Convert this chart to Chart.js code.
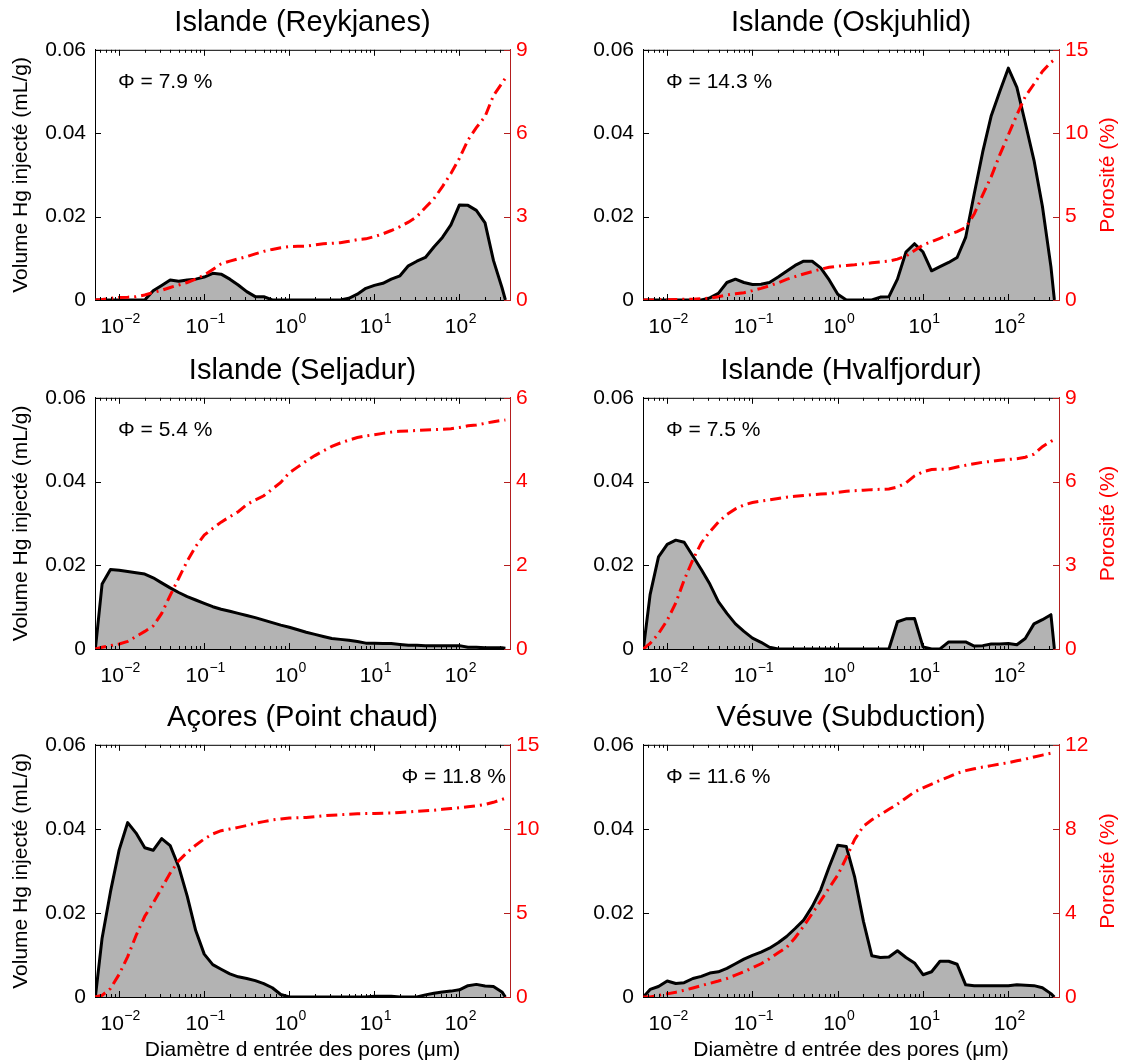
<!DOCTYPE html>
<html>
<head>
<meta charset="utf-8">
<script src="https://cdn.jsdelivr.net/npm/chart.js@4.4.1/dist/chart.umd.min.js"></script>
<style>
  html, body { margin: 0; padding: 0; background: #fff; }
  #page { position: relative; width: 1123px; height: 1063px; overflow: hidden; }
  #page canvas { position: absolute; }
</style>
</head>
<body>
<div id="page">
  <canvas id="c0" width="560" height="348" style="left:0;top:0"></canvas>
  <canvas id="c1" width="563" height="348" style="left:560px;top:0"></canvas>
  <canvas id="c2" width="560" height="347" style="left:0;top:348px"></canvas>
  <canvas id="c3" width="563" height="347" style="left:560px;top:348px"></canvas>
  <canvas id="c4" width="560" height="368" style="left:0;top:695px"></canvas>
  <canvas id="c5" width="563" height="368" style="left:560px;top:695px"></canvas>
</div>
<script>
// pore entry diameters (µm), shared by all samples
const diameters = [
  0.00525, 0.0063, 0.0079, 0.01, 0.0126, 0.0158, 0.02, 0.0251, 0.0316, 0.0398,
  0.0501, 0.0631, 0.0794, 0.1, 0.126, 0.158, 0.2, 0.251, 0.316, 0.398,
  0.501, 0.631, 0.794, 1, 1.26, 1.58, 2, 2.51, 3.16, 3.98,
  5.01, 6.31, 7.94, 10, 12.6, 15.8, 20, 25.1, 31.6, 39.8,
  50.1, 63.1, 79.4, 100, 126, 158, 200, 251, 316, 347
];

const panelTitles = [
  'Islande (Reykjanes)', 'Islande (Oskjuhlid)',
  'Islande (Seljadur)', 'Islande (Hvalfjordur)',
  'Açores (Point chaud)', 'Vésuve (Subduction)'
];
const phiLabels = ['Φ = 7.9 %', 'Φ = 14.3 %', 'Φ = 5.4 %', 'Φ = 7.5 %', 'Φ = 11.8 %', 'Φ = 11.6 %'];

// Hg volume injected (mL/g)
const reykjanesVolume = [
  0, 0, 0, 0, 0, 0, 0, 0.0022, 0.0035, 0.0048,
  0.0045, 0.0048, 0.005, 0.0055, 0.0064, 0.0062, 0.005, 0.0036, 0.002, 0.0008,
  0.0008, 0, 0, 0, 0, 0, 0, 0, 0, 0,
  0.0004, 0.0014, 0.0028, 0.0035, 0.004, 0.005, 0.0058, 0.0082, 0.0093, 0.0102,
  0.0127, 0.015, 0.018, 0.0228, 0.0227, 0.0215, 0.0185, 0.0095, 0.003, 0
];
const oskjuhlidVolume = [
  0, 0, 0, 0, 0, 0, 0, 0, 0.0005, 0.0016,
  0.0042, 0.005, 0.0042, 0.0037, 0.0038, 0.0042, 0.0055, 0.0069, 0.0083, 0.0093,
  0.0093, 0.0077, 0.0048, 0.0014, 0, 0, 0, 0, 0.0007, 0.0008,
  0.005, 0.0115, 0.0135, 0.0115, 0.007, 0.008, 0.009, 0.0102, 0.015, 0.0254,
  0.0355, 0.0442, 0.05, 0.0556, 0.051, 0.0425, 0.0335, 0.0225, 0.008, 0
];
const seljadurVolume = [
  0, 0.0155, 0.019, 0.0188, 0.0185, 0.0182, 0.0179, 0.017, 0.0158, 0.0146,
  0.0135, 0.0125, 0.0117, 0.0109, 0.0101, 0.0095, 0.009, 0.0085, 0.008, 0.0075,
  0.0069, 0.0063, 0.0057, 0.0052, 0.0046, 0.004, 0.0035, 0.003, 0.0025, 0.0023,
  0.0021, 0.0018, 0.0014, 0.0014, 0.0013, 0.0013, 0.0011, 0.0009, 0.0009, 0.0008,
  0.0008, 0.0008, 0.0008, 0.0008, 0.0004, 0.0004, 0.0003, 0.0003, 0.0003, 0.0002
];
const hvalfjordurVolume = [
  0, 0.013, 0.022, 0.025, 0.026, 0.0255, 0.0222, 0.019, 0.0155, 0.0113,
  0.0085, 0.006, 0.0042, 0.0026, 0.0016, 0.0004, 0, 0, 0, 0,
  0, 0, 0, 0, 0, 0, 0, 0, 0, 0,
  0.0065, 0.0072, 0.0073, 0.0005, 0, 0, 0.0017, 0.0017, 0.0017, 0.0007,
  0.0008, 0.0012, 0.0012, 0.0013, 0.001, 0.0025, 0.006, 0.007, 0.0082, 0
];
const acoresVolume = [
  0, 0.014, 0.025, 0.035, 0.0415, 0.039, 0.0355, 0.0349, 0.0377, 0.036,
  0.031, 0.024, 0.0158, 0.0102, 0.0077, 0.0066, 0.0055, 0.0048, 0.0044, 0.0039,
  0.0032, 0.0022, 0.0006, 0, 0, 0, 0, 0, 0, 0,
  0, 0, 0, 0.0002, 0.0002, 0.0002, 0, 0, 0, 0.0005,
  0.0009, 0.0012, 0.0014, 0.0017, 0.0027, 0.003, 0.0026, 0.0025, 0.0012, 0
];
const vesuveVolume = [
  0, 0.0018, 0.0025, 0.0038, 0.0032, 0.0034, 0.0044, 0.0049, 0.0057, 0.006,
  0.0068, 0.0079, 0.009, 0.0099, 0.0107, 0.0116, 0.0129, 0.0144, 0.0163, 0.0183,
  0.0215, 0.0255, 0.031, 0.0361, 0.0358, 0.0285, 0.018, 0.0098, 0.0094, 0.0095,
  0.011, 0.0094, 0.0081, 0.0053, 0.006, 0.0085, 0.0085, 0.0078, 0.0029, 0.0027,
  0.0027, 0.0027, 0.0027, 0.0027, 0.0029, 0.0028, 0.0027, 0.0022, 0.0008, 0
];

// cumulative porosity (%)
const reykjanesPorosity = [
  0, 0.02, 0.06, 0.09, 0.1, 0.12, 0.18, 0.27, 0.35, 0.45,
  0.54, 0.63, 0.75, 0.9, 1.1, 1.3, 1.4, 1.48, 1.56, 1.66,
  1.75, 1.82, 1.88, 1.92, 1.93, 1.94, 1.98, 2.02, 2.04, 2.06,
  2.11, 2.17, 2.2, 2.28, 2.38, 2.5, 2.64, 2.8, 3.0, 3.33,
  3.64, 4.08, 4.55, 5.1, 5.75, 6.2, 6.6, 7.35, 7.8, 7.98
];
const oskjuhlidPorosity = [
  0, 0, 0.01, 0.02, 0.03, 0.04, 0.05, 0.08, 0.11, 0.2,
  0.3, 0.37, 0.44, 0.56, 0.7, 0.85, 1.03, 1.24, 1.4, 1.56,
  1.7, 1.85, 1.96, 2.03, 2.07, 2.11, 2.17, 2.23, 2.28, 2.33,
  2.45, 2.63, 2.97, 3.3, 3.5, 3.7, 3.92, 4.1, 4.35, 5.15,
  6.3, 7.4, 8.7, 9.9, 11.1, 12.2, 12.95, 13.7, 14.25, 14.4
];
const seljadurPorosity = [
  0, 0.04, 0.08, 0.12, 0.18, 0.3, 0.42, 0.55, 0.85, 1.28,
  1.69, 2.1, 2.45, 2.72, 2.88, 3.03, 3.16, 3.28, 3.45, 3.56,
  3.66, 3.82, 3.98, 4.21, 4.35, 4.49, 4.62, 4.73, 4.84, 4.92,
  4.99, 5.05, 5.09, 5.12, 5.15, 5.18, 5.2, 5.21, 5.22, 5.23,
  5.24, 5.25, 5.26, 5.29, 5.33, 5.35, 5.39, 5.43, 5.46, 5.47
];
const hvalfjordurPorosity = [
  0, 0.2, 0.55, 1.03, 1.65, 2.47, 3.2, 3.8, 4.2, 4.55,
  4.82, 5.02, 5.16, 5.25, 5.3, 5.34, 5.39, 5.44, 5.47, 5.5,
  5.53, 5.55, 5.57, 5.61, 5.65, 5.67, 5.69, 5.71, 5.72, 5.73,
  5.8, 5.95, 6.2, 6.35, 6.43, 6.44, 6.45, 6.52, 6.58, 6.64,
  6.69, 6.72, 6.76, 6.79, 6.82, 6.87, 6.98, 7.25, 7.44, 7.5
];
const acoresPorosity = [
  0, 0.1, 0.5, 1.35, 2.4, 3.66, 4.8, 5.59, 6.48, 7.37,
  8.1, 8.6, 9.03, 9.4, 9.7, 9.89, 9.99, 10.09, 10.2, 10.34,
  10.43, 10.53, 10.59, 10.64, 10.66, 10.68, 10.73, 10.78, 10.81, 10.84,
  10.87, 10.9, 10.91, 10.92, 10.93, 10.94, 10.98, 11.01, 11.04, 11.08,
  11.11, 11.16, 11.21, 11.26, 11.31, 11.37, 11.45, 11.58, 11.75, 11.82
];
const vesuvePorosity = [
  0, 0, 0.08, 0.15, 0.23, 0.32, 0.43, 0.54, 0.65, 0.76,
  0.88, 1.04, 1.2, 1.39, 1.58, 1.82, 2.1, 2.36, 2.82, 3.37,
  3.97, 4.58, 5.2, 5.8, 6.63, 7.5, 8.13, 8.43, 8.68, 8.93,
  9.18, 9.47, 9.76, 9.95, 10.13, 10.31, 10.47, 10.65, 10.77, 10.86,
  10.94, 11.01, 11.08, 11.15, 11.24, 11.32, 11.42, 11.51, 11.6, 11.65
];

const porosityMax = [9, 15, 6, 9, 15, 12];
const porosityStep = [3, 5, 2, 3, 5, 4];
const volumeTicks = [0, 0.02, 0.04, 0.06];
const xTickValues = [0.01, 0.1, 1, 10, 100];
const xTickBase = '10';
const xTickExponents = ['−2', '−1', '0', '1', '2'];

const panels = [
  [reykjanesVolume, reykjanesPorosity],
  [oskjuhlidVolume, oskjuhlidPorosity],
  [seljadurVolume, seljadurPorosity],
  [hvalfjordurVolume, hvalfjordurPorosity],
  [acoresVolume, acoresPorosity],
  [vesuveVolume, vesuvePorosity]
];

const FONT = '"Liberation Sans", Arial, Helvetica, sans-serif';
const RED = '#ff0000';
const AXIS_RED = '#b41e1e';
Chart.defaults.font.family = FONT;
Chart.defaults.color = '#000';

// box top line, inward tick marks, 10^n labels, Φ label and right-side title
const frameTicks = {
  id: 'frameTicks',
  afterDatasetsDraw(chart, args, opts) {
    const {ctx, chartArea: a, scales} = chart;
    const x = scales.x, y = scales.y, y1 = scales.y1;
    ctx.save();
    ctx.lineWidth = 1;
    ctx.strokeStyle = '#000';
    ctx.beginPath();
    ctx.moveTo(a.left, a.top + 0.5);
    ctx.lineTo(a.right, a.top + 0.5);
    for (let e = -3; e <= 2; e++) {
      for (let m = 1; m <= 9; m++) {
        const v = m * Math.pow(10, e);
        if (v < x.min || v > x.max) continue;
        const px = Math.round(x.getPixelForValue(v)) + 0.5;
        const len = m === 1 ? 6 : 3;
        ctx.moveTo(px, a.bottom);
        ctx.lineTo(px, a.bottom - len);
        ctx.moveTo(px, a.top);
        ctx.lineTo(px, a.top + len);
      }
    }
    volumeTicks.forEach(v => {
      const py = Math.round(y.getPixelForValue(v)) + 0.5;
      ctx.moveTo(a.left, py);
      ctx.lineTo(a.left + 6, py);
    });
    ctx.stroke();

    ctx.strokeStyle = AXIS_RED;
    ctx.beginPath();
    y1.ticks.forEach(t => {
      const py = Math.round(y1.getPixelForValue(t.value)) + 0.5;
      ctx.moveTo(a.right, py);
      ctx.lineTo(a.right - 6, py);
    });
    ctx.stroke();

    // decade labels with raised exponent
    ctx.fillStyle = '#000';
    ctx.textBaseline = 'alphabetic';
    ctx.textAlign = 'left';
    xTickValues.forEach((v, k) => {
      const px = x.getPixelForValue(v);
      ctx.font = '21px ' + FONT;
      const wb = ctx.measureText(xTickBase).width;
      ctx.font = '14px ' + FONT;
      const we = ctx.measureText(xTickExponents[k]).width;
      const left = px - (wb + we) / 2 + 1;
      ctx.font = '21px ' + FONT;
      ctx.fillText(xTickBase, left, a.bottom + 33);
      ctx.font = '14px ' + FONT;
      ctx.fillText(xTickExponents[k], left + wb + 0.5, a.bottom + 23);
    });

    ctx.font = '21px ' + FONT;
    if (opts.phiRight) {
      ctx.textAlign = 'right';
      ctx.fillText(opts.phi, a.right - 4, a.top + 38);
    } else {
      ctx.textAlign = 'left';
      ctx.fillText(opts.phi, a.left + 23, a.top + 38);
    }

    if (opts.rightTitle) {
      ctx.fillStyle = RED;
      ctx.translate(chart.width - 15, (a.top + a.bottom) / 2);
      ctx.rotate(-Math.PI / 2);
      ctx.textAlign = 'center';
      ctx.textBaseline = 'middle';
      ctx.fillText(opts.rightTitle, 0, 0);
    }
    ctx.restore();
  }
};

function buildChart(idx) {
  const col = idx % 2;
  const row = Math.floor(idx / 2);
  const [volume, porosity] = panels[idx];
  const leftWidth = col === 0 ? 95 : 83;
  const rightWidth = col === 0 ? 50 : 64;
  const xHeight = [48, 46, 66][row];

  new Chart(document.getElementById('c' + idx), {
    type: 'line',
    data: {
      datasets: [{
        label: 'Porosité',
        data: diameters.map((d, k) => ({x: d, y: porosity[k]})),
        yAxisID: 'y1',
        borderColor: RED,
        borderWidth: 3,
        borderDash: [11, 5, 2, 5],
        pointRadius: 0,
        fill: false,
        tension: 0,
        order: 0
      }, {
        label: 'Volume Hg',
        data: diameters.map((d, k) => ({x: d, y: volume[k]})),
        yAxisID: 'y',
        borderColor: '#000',
        borderWidth: 3,
        borderJoinStyle: 'round',
        backgroundColor: 'rgb(179,179,179)',
        pointRadius: 0,
        fill: 'origin',
        tension: 0,
        order: 1
      }]
    },
    options: {
      responsive: false,
      animation: false,
      devicePixelRatio: 1,
      events: [],
      layout: { padding: 0 },
      plugins: {
        legend: { display: false },
        tooltip: { enabled: false },
        title: {
          display: true,
          text: panelTitles[idx],
          fullSize: false,
          color: '#000',
          font: { size: 29, weight: 'normal' },
          padding: { top: 6, bottom: 9 }
        },
        frameTicks: {
          phi: phiLabels[idx],
          phiRight: idx === 4,
          rightTitle: col === 1 ? 'Porosité (%)' : ''
        }
      },
      scales: {
        x: {
          type: 'logarithmic',
          min: 0.0052,
          max: 393,
          afterBuildTicks: s => { s.ticks = xTickValues.map(v => ({value: v})); },
          afterFit: s => { s.height = xHeight; },
          grid: { drawOnChartArea: false, drawTicks: false },
          border: { color: '#000', width: 1 },
          ticks: {
            font: { size: 21 },
            color: '#000',
            padding: 14,
            maxRotation: 0,
            autoSkip: false,
            callback: () => ''
          },
          title: {
            display: row === 2,
            text: 'Diamètre d entrée des pores (μm)',
            font: { size: 21 },
            color: '#000',
            padding: { top: 0, bottom: 0 }
          }
        },
        y: {
          position: 'left',
          min: 0,
          max: 0.06,
          afterBuildTicks: s => { s.ticks = volumeTicks.map(v => ({value: v})); },
          afterFit: s => { s.width = leftWidth; },
          grid: { drawOnChartArea: false, drawTicks: false },
          border: { color: '#000', width: 1 },
          ticks: {
            font: { size: 21 },
            color: '#000',
            padding: 9,
            callback: v => (v === 0 ? '0' : v.toFixed(2))
          },
          title: {
            display: col === 0,
            text: 'Volume Hg injecté (mL/g)',
            font: { size: 21 },
            color: '#000',
            padding: { top: 9, bottom: 0 }
          }
        },
        y1: {
          position: 'right',
          min: 0,
          max: porosityMax[idx],
          afterFit: s => { s.width = rightWidth; },
          grid: { drawOnChartArea: false, drawTicks: false },
          border: { color: AXIS_RED, width: 1 },
          ticks: {
            stepSize: porosityStep[idx],
            font: { size: 21 },
            color: RED,
            padding: 6
          }
        }
      }
    },
    plugins: [frameTicks]
  });
}

for (let i = 0; i < 6; i++) buildChart(i);
</script>
</body>
</html>
